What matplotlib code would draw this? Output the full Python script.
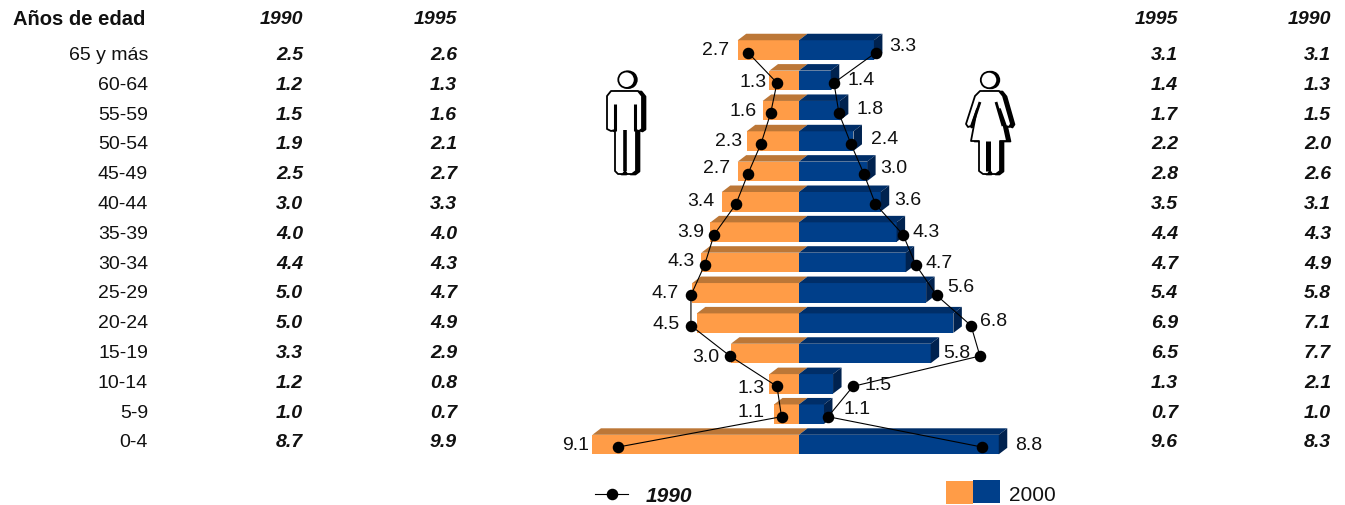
import matplotlib
matplotlib.use("Agg")
import numpy as np
import matplotlib.pyplot as plt
from matplotlib.patches import Polygon, Circle, Rectangle

plt.rcParams['font.family'] = ['Liberation Sans', 'DejaVu Sans']

ages = ['65 y más', '60-64', '55-59', '50-54', '45-49', '40-44', '35-39',
        '30-34', '25-29', '20-24', '15-19', '10-14', '5-9', '0-4']

# table columns
men_1990 = ['2.5', '1.2', '1.5', '1.9', '2.5', '3.0', '4.0', '4.4', '5.0', '5.0', '3.3', '1.2', '1.0', '8.7']
men_1995 = ['2.6', '1.3', '1.6', '2.1', '2.7', '3.3', '4.0', '4.3', '4.7', '4.9', '2.9', '0.8', '0.7', '9.9']
women_1995 = ['3.1', '1.4', '1.7', '2.2', '2.8', '3.5', '4.4', '4.7', '5.4', '6.9', '6.5', '1.3', '0.7', '9.6']
women_1990 = ['3.1', '1.3', '1.5', '2.0', '2.6', '3.1', '4.3', '4.9', '5.8', '7.1', '7.7', '2.1', '1.0', '8.3']

# bars (2000)
men_2000 = [2.7, 1.3, 1.6, 2.3, 2.7, 3.4, 3.9, 4.3, 4.7, 4.5, 3.0, 1.3, 1.1, 9.1]
women_2000 = [3.3, 1.4, 1.8, 2.4, 3.0, 3.6, 4.3, 4.7, 5.6, 6.8, 5.8, 1.5, 1.1, 8.8]

# dots (1990)
men_dots = [2.25, 0.97, 1.25, 1.67, 2.25, 2.78, 3.74, 4.16, 4.76, 4.76, 3.04, 0.97, 0.77, 7.97]
women_dots = [3.39, 1.54, 1.76, 2.28, 2.86, 3.37, 4.58, 5.15, 6.06, 7.58, 7.97, 2.38, 1.28, 8.06]

# label offsets in pixels from the bar end
men_dx = [-22, -16.5, -20, -18, -21, -21, -19.5, -20, -27, -31, -25, -18.5, -23, -17]
men_dy = [-1, 1, -1, -1, -4, -2, -1, -2.5, -1, 0, 2, 3, -3, -1]
women_dx = [29, 30, 30, 31.5, 27, 27, 30, 33, 35, 40.6, 26, 45, 33, 30]
women_dy = [-5, -1, -3, -3, -4, -3, -1, 0, -7, -3, -2, 0, -6, -1]

ORANGE, ORANGE_TOP = '#FF9C47', '#BC7737'
BLUE, BLUE_TOP, BLUE_SIDE = '#003F8A', '#002E68', '#00224F'

W, H = 1345, 506
PX_X = 22.7    # pixels per percent
PX_Y = 30.35   # pixels per row
X0, Y0 = 799, 51

fig = plt.figure(figsize=(W / 100, H / 100), dpi=100)

ax = fig.add_axes([0, 0, 1, 1])
ax.set_xlim(-X0 / PX_X, (W - X0) / PX_X)
ax.set_ylim((H - Y0) / PX_Y, -Y0 / PX_Y)
ax.axis('off')

rows = np.arange(len(ages))
bar_h = 19.5 / PX_Y
dx3 = 8.5 / PX_X
dy3 = 6.5 / PX_Y

ax.barh(rows, -np.array(men_2000), height=bar_h, color=ORANGE, zorder=2)
ax.barh(rows, women_2000, height=bar_h, color=BLUE, zorder=2)

# fake 3d faces
for r, m, w in zip(rows, men_2000, women_2000):
    top = r - bar_h / 2
    bot = r + bar_h / 2
    ax.add_patch(Polygon([(-m, top), (-m + dx3, top - dy3), (dx3, top - dy3), (0, top)],
                         color=ORANGE_TOP, lw=0, zorder=2))
    ax.add_patch(Polygon([(0, top), (dx3, top - dy3), (w + dx3, top - dy3), (w, top)],
                         color=BLUE_TOP, lw=0, zorder=2))
    ax.add_patch(Polygon([(w, top), (w + dx3, top - dy3), (w + dx3, bot - dy3), (w, bot)],
                         color=BLUE_SIDE, lw=0, zorder=2))

# 1990 lines
dot_rows = rows + 2.5 / PX_Y
ax.plot(-np.array(men_dots), dot_rows, '-o', color='black', lw=0.8, ms=7.3, zorder=4)
ax.plot(women_dots, dot_rows, '-o', color='black', lw=0.8, ms=7.3, zorder=4)

# bar labels
for r, m, w, a, b, c, d in zip(rows, men_2000, women_2000, men_dx, men_dy, women_dx, women_dy):
    ax.annotate(f'{m:.1f}', (-m, r), xytext=(a * 0.72, -(b + 0.5) * 0.72), textcoords='offset points',
                ha='center', va='center', fontsize=14, color='#111111', zorder=5)
    ax.annotate(f'{w:.1f}', (w, r), xytext=(c * 0.72, -(d + 0.5) * 0.72), textcoords='offset points',
                ha='center', va='center', fontsize=14, color='#111111', zorder=5)

# second axes in pixels for the table, legend and the figures
px = fig.add_axes([0, 0, 1, 1], facecolor='none')
px.set_xlim(0, W)
px.set_ylim(H, 0)
px.axis('off')

row_y = 55.5 + 29.8 * rows
bold = dict(fontsize=14, fontweight='bold', fontstyle='italic', ha='right', va='center', color='#111111')

px.text(13, 19, 'Años de edad', fontsize=14.5, fontweight='bold', ha='left', va='center', color='#111111')
for x, head, col in [(303, '1990', men_1990), (457, '1995', men_1995),
                     (1178, '1995', women_1995), (1331, '1990', women_1990)]:
    px.text(x, 19, head, **bold)
    for y, v in zip(row_y, col):
        px.text(x, y, v, **bold)
for y, a in zip(row_y, ages):
    px.text(148, y, a, fontsize=14, ha='right', va='center', color='#111111')

# legend
px.plot([595, 628], [495, 495], color='black', lw=0.8)
px.plot([612], [495], 'o', color='black', ms=7.3)
px.text(646, 497, '1990', fontsize=15, fontweight='bold', fontstyle='italic', ha='left', va='center', color='#111111')
px.add_patch(Rectangle((946, 482), 27, 23, color=ORANGE, lw=0))
px.add_patch(Rectangle((973, 481), 27, 23, color=BLUE, lw=0))
px.text(1009, 496, '2000', fontsize=15, ha='left', va='center', color='#111111')

# man and woman
man = [(611, 92), (638, 92), (642, 97), (642, 130), (639, 132), (636, 131), (636, 172), (632, 175),
       (627, 175), (625, 172), (623, 175), (618, 175), (615, 172), (615, 131), (611, 132), (607, 130), (607, 97)]
woman = [(980, 92), (999, 92), (1003, 97), (1011, 125), (1009, 128), (1006, 127), (1000, 110), (1007, 142),
         (1000, 142), (1000, 172), (996, 175), (992, 175), (990, 172), (988, 175), (983, 175), (979, 172),
         (979, 142), (971, 142), (977, 110), (971, 127), (968, 128), (966, 125), (975, 97)]


def person(points, head, slits):
    pts = np.array(points, dtype=float)
    px.add_patch(Polygon(pts + [3.5, 0.5], closed=True, fc='black', ec='black', lw=1.2, joinstyle='round'))
    px.add_patch(Polygon(pts, closed=True, fc='white', ec='black', lw=1.3, joinstyle='round'))
    px.add_patch(Circle((head[0] + 2, head[1]), 9.2, fc='black', ec='none'))
    px.add_patch(Circle(head, 8.2, fc='white', ec='black', lw=1.3))
    for x, y, lw in slits:
        px.plot(x, y, color='black', lw=lw, solid_capstyle='butt')


person(man, (626.5, 80.7), [([614.5, 614.5], [105, 132], 2.2), ([634.5, 634.5], [105, 132], 2.2),
                            ([624.5, 624.5], [131, 172], 2.6)])
person(woman, (989, 81), [([980, 973], [103, 124], 2.0), ([996, 1003], [103, 127], 2.0),
                          ([988, 988], [142, 172], 3.6)])

fig.savefig('out.png', dpi=100)
